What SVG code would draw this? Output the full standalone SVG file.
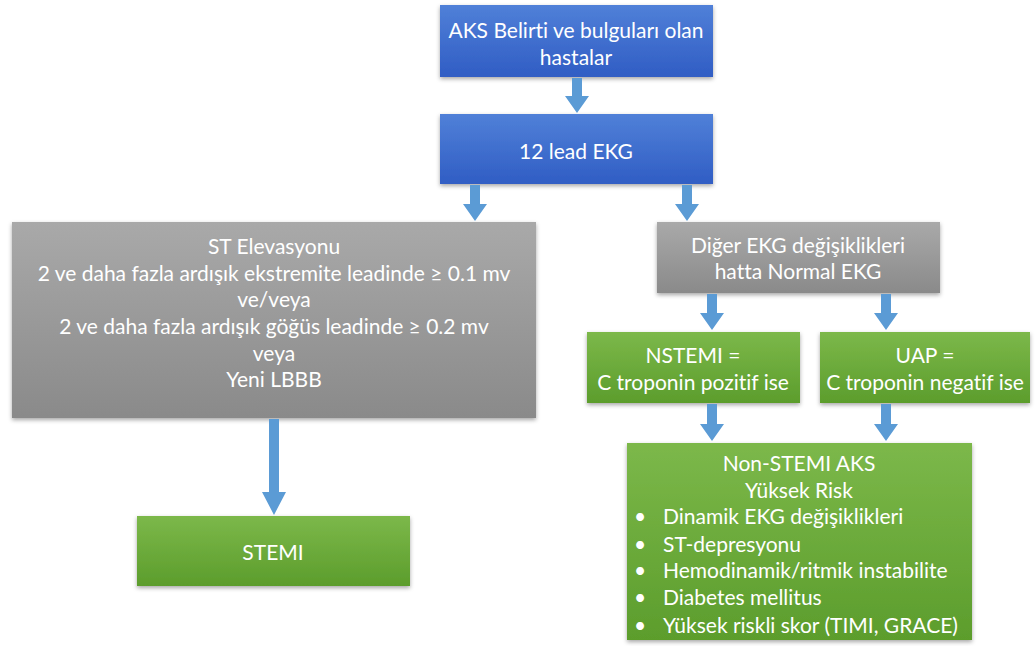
<svg xmlns="http://www.w3.org/2000/svg" width="1036" height="646" viewBox="0 0 1036 646">
<defs>
<linearGradient id="gBlue" x1="0" y1="0" x2="0" y2="1"><stop offset="0" stop-color="#5080d8"/><stop offset="1" stop-color="#305dc4"/></linearGradient>
<linearGradient id="gGrey" x1="0" y1="0" x2="0" y2="1"><stop offset="0" stop-color="#a9a9a9"/><stop offset="1" stop-color="#8a8a8a"/></linearGradient>
<linearGradient id="gGreen" x1="0" y1="0" x2="0" y2="1"><stop offset="0" stop-color="#7cb84a"/><stop offset="1" stop-color="#5c9d2c"/></linearGradient>
<filter id="sh" x="-5%" y="-10%" width="110%" height="125%"><feDropShadow dx="0" dy="2" stdDeviation="2" flood-color="#000" flood-opacity="0.35"/></filter>
</defs>
<style>
.box{filter:url(#sh)}
.blue{fill:url(#gBlue)}
.grey{fill:url(#gGrey)}
.green{fill:url(#gGreen)}
text{font-family:Lato,"Liberation Sans",sans-serif;font-size:21px;fill:#ffffff;text-anchor:middle;dominant-baseline:central;font-variant-ligatures:none}
.l{text-anchor:start}
.arrow{fill:#5b9bd5}
</style>
<rect width="1036" height="646" fill="#ffffff"/>
<g id="n-aks">
<rect class="box blue" x="440" y="5" width="273" height="72"/>
<text x="576" y="29">AKS Belirti ve bulguları olan</text>
<text x="576" y="56">hastalar</text>
</g>
<g id="n-ekg">
<rect class="box blue" x="440" y="114" width="273" height="70"/>
<text x="576" y="150">12 lead EKG</text>
</g>
<g id="n-st">
<rect class="box grey" x="12" y="222" width="524" height="196"/>
<text x="274" y="245">ST Elevasyonu</text>
<text x="274" y="272">2 ve daha fazla ardışık ekstremite leadinde ≥ 0.1 mv</text>
<text x="274" y="298">ve/veya</text>
<text x="274" y="325">2 ve daha fazla ardışık göğüs leadinde ≥ 0.2 mv</text>
<text x="274" y="352">veya</text>
<text x="274" y="378">Yeni LBBB</text>
</g>
<g id="n-diger">
<rect class="box grey" x="657" y="222" width="283" height="71"/>
<text x="798" y="244">Diğer EKG değişiklikleri</text>
<text x="798" y="270">hatta Normal EKG</text>
</g>
<g id="n-nstemi">
<rect class="box green" x="587" y="332" width="213" height="71"/>
<text x="693" y="354">NSTEMI =</text>
<text x="693" y="381">C troponin pozitif ise</text>
</g>
<g id="n-uap">
<rect class="box green" x="820" y="332" width="210" height="71"/>
<text x="925" y="354">UAP =</text>
<text x="925" y="381">C troponin negatif ise</text>
</g>
<g id="n-nonstemi">
<rect class="box green" x="627" y="443" width="345" height="197"/>
<text x="799" y="462">Non-STEMI AKS</text>
<text x="799" y="489">Yüksek Risk</text>
<text class="l" x="634" y="515">•</text><text class="l" x="663" y="515">Dinamik EKG değişiklikleri</text>
<text class="l" x="634" y="543">•</text><text class="l" x="663" y="543">ST-depresyonu</text>
<text class="l" x="634" y="569">•</text><text class="l" x="663" y="569">Hemodinamik/ritmik instabilite</text>
<text class="l" x="634" y="596">•</text><text class="l" x="663" y="596">Diabetes mellitus</text>
<text class="l" x="634" y="624">•</text><text class="l" x="663" y="624">Yüksek riskli skor (TIMI, GRACE)</text>
</g>
<g id="n-stemi">
<rect class="box green" x="137" y="516" width="273" height="70"/>
<text x="273" y="551">STEMI</text>
</g>
<g id="connectors">
<path class="arrow" d="M572,78 H582 V96 H589 L577,113 L565,96 H572 Z"/>
<path class="arrow" d="M470,185 H480 V204 H487 L475,221 L463,204 H470 Z"/>
<path class="arrow" d="M682,185 H692 V204 H699 L687,221 L675,204 H682 Z"/>
<path class="arrow" d="M707,294 H717 V313 H724 L712,330 L700,313 H707 Z"/>
<path class="arrow" d="M881,294 H891 V313 H898 L886,330 L874,313 H881 Z"/>
<path class="arrow" d="M707,404 H717 V424 H724 L712,441 L700,424 H707 Z"/>
<path class="arrow" d="M881,404 H891 V424 H898 L886,441 L874,424 H881 Z"/>
<path class="arrow" d="M269,419 H279 V492 H286 L274,515 L262,492 H269 Z"/>
</g>
</svg>
